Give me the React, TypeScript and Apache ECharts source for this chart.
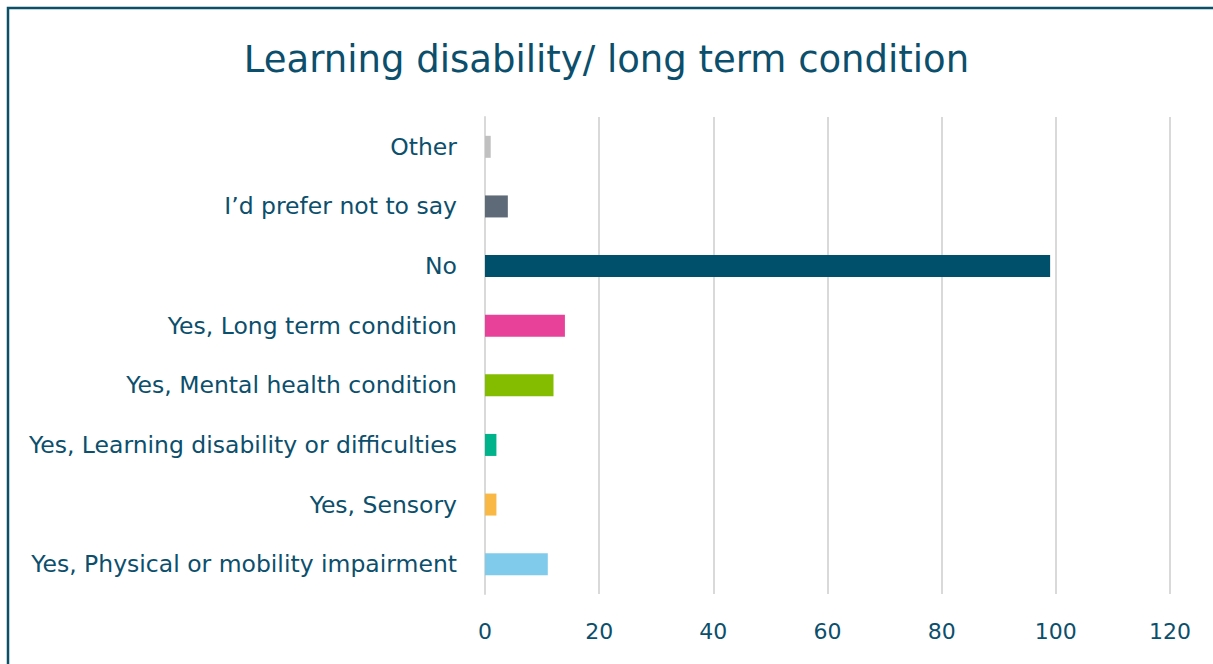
import React, { useEffect, useRef } from "react";
import * as echarts from "echarts";

const categories = [
  "Yes, Physical or mobility impairment",
  "Yes, Sensory",
  "Yes, Learning disability or difficulties",
  "Yes, Mental health condition",
  "Yes, Long term condition",
  "No",
  "I’d prefer not to say",
  "Other",
];
const values = [11, 2, 2, 12, 14, 99, 4, 1];
const colors = ["#80CBEB", "#F9B844", "#00B38B", "#84BD00", "#E8419A", "#004F6B", "#5E6A78", "#C0C0C0"];
const xTicks = { min: 0, max: 120, interval: 20 };
const title = "Learning disability/ long term condition";

export default function App() {
  const ref = useRef<HTMLDivElement>(null);
  useEffect(() => {
    const chart = echarts.init(ref.current!, null, { renderer: "svg" });
    const textColor = "#0B4F6C";
    const font = "DejaVu Sans";
    chart.setOption({
      animation: false,
      backgroundColor: "#ffffff",
      title: {
        text: title,
        left: "center",
        top: 36,
        textStyle: { fontFamily: font, fontSize: 37, fontWeight: "normal", color: textColor },
      },
      graphic: [
        {
          type: "rect",
          shape: { x: 8, y: 8, width: 1260, height: 720 },
          style: { fill: "none", stroke: "#0A5068", lineWidth: 2.5 },
        },
      ],
      grid: { left: 485, right: 43, top: 117, bottom: 70, containLabel: false },
      xAxis: {
        type: "value",
        min: xTicks.min,
        max: xTicks.max,
        interval: xTicks.interval,
        axisLine: { show: false },
        axisTick: { show: false },
        splitLine: { lineStyle: { color: "#D9D9D9", width: 2 } },
        axisLabel: { color: textColor, fontFamily: font, fontSize: 22, margin: 26 },
      },
      yAxis: {
        type: "category",
        data: categories,
        axisLine: { show: true, lineStyle: { color: "#D9D9D9", width: 2 } },
        axisTick: { show: false },
        axisLabel: { color: textColor, fontFamily: font, fontSize: 23.5, margin: 28 },
      },
      series: [
        {
          type: "bar",
          data: values.map((v, i) => ({ value: v, itemStyle: { color: colors[i] } })),
          barWidth: 22,
        },
      ],
    });
    return () => chart.dispose();
  }, []);
  return (
    <div
      ref={ref}
      style={{ position: "absolute", left: 0, top: 0, width: 1213, height: 664 }}
    />
  );
}
